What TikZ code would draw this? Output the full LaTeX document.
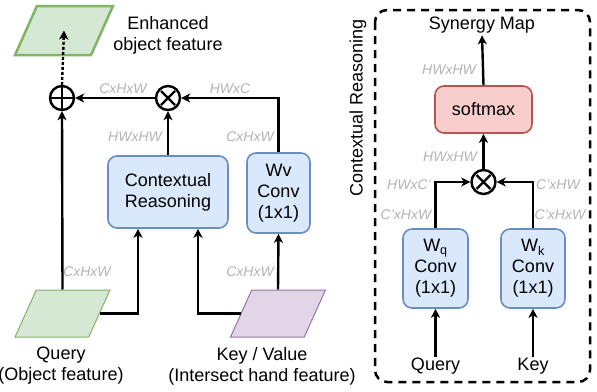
\documentclass[tikz,border=0pt]{standalone}
\usepackage{fontspec}
\setmainfont{Liberation Sans}
\usetikzlibrary{shapes.geometric,arrows.meta}
\definecolor{boxfill}{HTML}{DAE8FC}
\definecolor{boxline}{HTML}{6C8EBF}
\definecolor{objfill}{HTML}{D5E8D4}
\definecolor{objline}{HTML}{82B366}
\definecolor{kvfill}{HTML}{E1D5E7}
\definecolor{kvline}{HTML}{9673A6}
\definecolor{smfill}{HTML}{F8CECC}
\definecolor{smline}{HTML}{B85450}
\definecolor{dimgray}{HTML}{B3B3B3}
\begin{document}
\begin{tikzpicture}
    [x=1pt, y=-1pt,
    every node/.style={font=\fontsize{18}{21}\selectfont},
    box/.style={draw=boxline, fill=boxfill, line width=1.6pt, rounded corners=9pt,
      align=center, inner sep=0pt},
    feat/.style={trapezium, trapezium left angle=68, trapezium right angle=112,
      trapezium stretches=true, minimum width=95pt, minimum height=47pt},
    dim/.style={text=dimgray, font=\itshape\fontsize{14}{16}\selectfont, inner sep=0pt},
    arr/.style={line width=2.4pt, -{Stealth[length=9pt, width=9pt, inset=2.5pt]}},
    op/.style={circle, draw, line width=2.4pt, minimum size=24pt, inner sep=0pt},
    times/.style={op, path picture={\draw[line width=2.4pt]
      (path picture bounding box.center) +(-7pt,-7pt) -- +(7pt,7pt)
      +(-7pt,7pt) -- +(7pt,-7pt);}},
    plus/.style={op, path picture={\draw[line width=2.4pt]
      (path picture bounding box.center) +(-12pt,0) -- +(12pt,0)
      +(0,-12pt) -- +(0,12pt);}}]
    \useasboundingbox (0,0) rectangle (597,391);
    % left: object feature enhancement
    \node[feat, draw=objline, fill=objfill, line width=2.5pt, minimum width=98pt,
      minimum height=49pt] (enh) at (64,30.5) {};
    \node[align=center] (enhtext) at (168,35) {Enhanced\\object feature};
    \node[plus] (add) at (62,98) {};
    \node[times] (mul) at (168,98) {};
    \node[box, minimum width=120pt, minimum height=72pt] (cr) at (168,192)
      {Contextual\\Reasoning};
    \node[box, minimum width=63pt, minimum height=80pt] (wv) at (278.5,193)
      {Wv\\Conv\\(1x1)};
    \node[feat, draw=objline, fill=objfill, line width=1pt] (query) at (62.5,313.5) {};
    \node[feat, draw=kvline, fill=kvfill, line width=1pt] (kv) at (278,313.5) {};
    \node[align=center] (querytext) at (61,366) {Query\\(Object feature)};
    \node[align=center] (kvtext) at (262,366) {Key / Value\\(Intersect hand feature)};
    \draw[arr] (query.north) -- (add.south);
    \draw[arr] (query.east) -| ([xshift=-30pt]cr.south);
    \draw[arr] (kv.west) -| ([xshift=30pt]cr.south);
    \draw[arr] (kv.north) -- (wv.south);
    \draw[arr] (cr.north) -- (mul.south);
    \draw[arr] (wv.north) |- (mul.east);
    \draw[arr] (mul.west) -- (add.east);
    \draw[arr, dash pattern=on 3pt off 2pt] (add.north) -- (enh.center);
    \node[dim] at (123,89) {CxHxW};
    \node[dim] at (230,89) {HWxC};
    \node[dim] at (135,137) {HWxHW};
    \node[dim] at (250,137) {CxHxW};
    \node[dim] at (87,272) {CxHxW};
    \node[dim] at (250,272) {CxHxW};
    % right: contextual reasoning
    \draw[line width=2.5pt, dash pattern=on 8pt off 6pt, rounded corners=12pt]
      (375,10) rectangle (590,382);
    \node[rotate=90] (crtitle) at (358,108) {Contextual Reasoning};
    \node[inner sep=2pt] (syn) at (482,25) {Synergy Map};
    \node[box, draw=smline, fill=smfill, minimum width=97pt, minimum height=47pt]
      (soft) at (483.5,109.5) {softmax};
    \node[times] (mulr) at (483.5,182) {};
    \node[box, minimum width=65pt, minimum height=79pt] (wq) at (435.5,268.5)
      {W\textsubscript{q}\\Conv\\(1x1)};
    \node[box, minimum width=64pt, minimum height=79pt] (wk) at (533,268.5)
      {W\textsubscript{k}\\Conv\\(1x1)};
    \node[inner sep=1pt] (qin) at (435.5,366) {Query};
    \node[inner sep=1pt] (kin) at (533,366) {Key};
    \draw[arr] (qin.north) -- (wq.south);
    \draw[arr] (kin.north) -- (wk.south);
    \draw[arr] (wq.north) |- (mulr.west);
    \draw[arr] (wk.north) |- (mulr.east);
    \draw[arr] (mulr.north) -- (soft.south);
    \draw[arr] (soft.north) -- (syn.south);
    \node[dim] at (449,70) {HWxHW};
    \node[dim] at (450,157) {HWxHW};
    \node[dim] at (409,185) {HWxC'};
    \node[dim] at (558,185) {C'xHW};
    \node[dim] at (406,215) {C'xHxW};
    \node[dim] at (560,215) {C'xHxW};
\end{tikzpicture}
\end{document}
